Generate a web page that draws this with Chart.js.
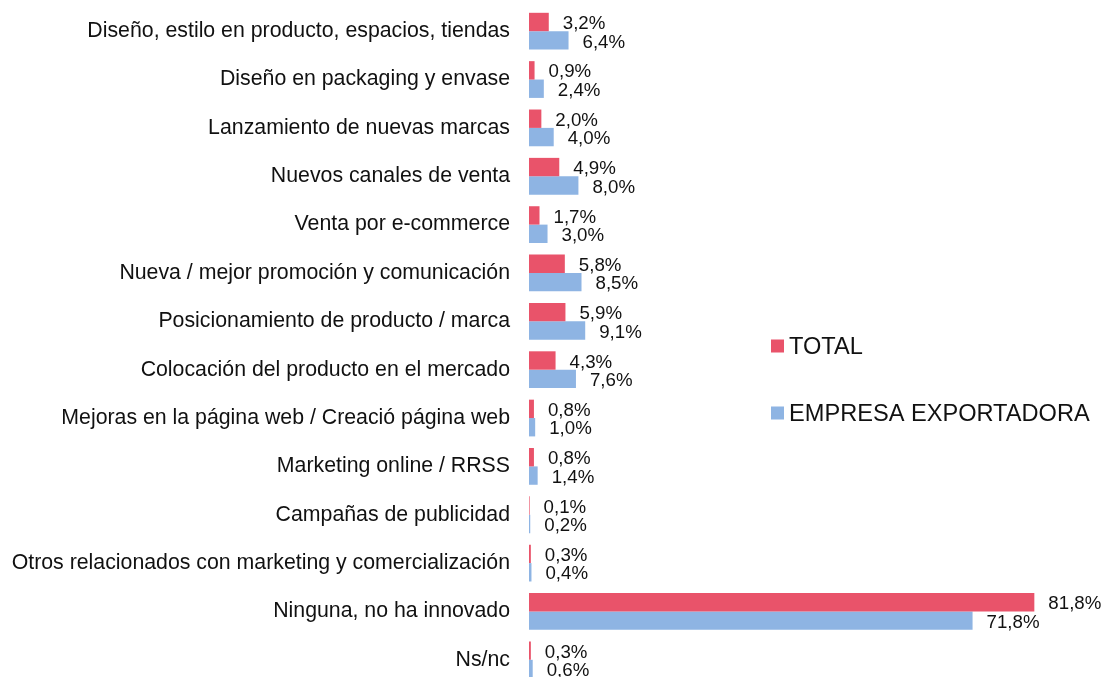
<!DOCTYPE html>
<html>
<head>
<meta charset="utf-8">
<script src="https://cdn.jsdelivr.net/npm/chart.js@4"></script>
<style>
  html, body { margin: 0; padding: 0; background: #fff; overflow: hidden; }
  #wrap { width: 1109px; height: 684px; position: relative; }
</style>
</head>
<body>
<div id="wrap"><canvas id="chart"></canvas></div>
<script>
const categories = [
    'Diseño, estilo en producto, espacios, tiendas',
    'Diseño en packaging y envase',
    'Lanzamiento de nuevas marcas',
    'Nuevos canales de venta',
    'Venta por e-commerce',
    'Nueva / mejor promoción y comunicación',
    'Posicionamiento de producto / marca',
    'Colocación del producto en el mercado',
    'Mejoras en la página web / Creació página web',
    'Marketing online / RRSS',
    'Campañas de publicidad',
    'Otros relacionados con marketing y comercialización',
    'Ninguna, no ha innovado',
    'Ns/nc'
];
const totalValues = [3.2, 0.9, 2.0, 4.9, 1.7, 5.8, 5.9, 4.3, 0.8, 0.8, 0.1, 0.3, 81.8, 0.3];
const exportValues = [6.4, 2.4, 4.0, 8.0, 3.0, 8.5, 9.1, 7.6, 1.0, 1.4, 0.2, 0.4, 71.8, 0.6];
const seriesNames = ['TOTAL', 'EMPRESA EXPORTADORA'];

const RED = '#e9536a';
const BLUE = '#8eb4e3';
const FONT = '"Liberation Sans", Arial, sans-serif';

const valueLabels = {
    id: 'valueLabels',
    afterDatasetsDraw(chart) {
        const ctx = chart.ctx;
        ctx.save();
        ctx.font = '18.7px ' + FONT;
        ctx.fillStyle = '#111';
        ctx.textAlign = 'left';
        ctx.textBaseline = 'middle';
        chart.data.datasets.forEach((ds, i) => {
            chart.getDatasetMeta(i).data.forEach((bar, j) => {
                const txt = ds.data[j].toFixed(1).replace('.', ',') + '%';
                ctx.fillText(txt, bar.x + 14, bar.y + 2);
            });
        });
        ctx.restore();
    }
};

// legend sits inside the plot area, to the right of the short bars
const floatLegend = {
    id: 'floatLegend',
    afterDraw(chart) {
        const ctx = chart.ctx;
        const rows = [346, 413];
        ctx.save();
        ctx.font = '23.6px ' + FONT;
        ctx.textBaseline = 'middle';
        ctx.textAlign = 'left';
        chart.data.datasets.forEach((ds, i) => {
            const y = rows[i];
            ctx.fillStyle = ds.backgroundColor;
            ctx.fillRect(771, y - 6.5, 13, 13);
            ctx.fillStyle = '#111';
            ctx.fillText(ds.label, 789, y + 1);
        });
        ctx.restore();
    }
};

new Chart(document.getElementById('chart'), {
    type: 'bar',
    plugins: [valueLabels, floatLegend],
    data: {
        labels: categories,
        datasets: [
            { label: seriesNames[0], data: totalValues, backgroundColor: RED, borderWidth: 0 },
            { label: seriesNames[1], data: exportValues, backgroundColor: BLUE, borderWidth: 0 }
        ]
    },
    options: {
        indexAxis: 'y',
        animation: false,
        responsive: true,
        maintainAspectRatio: false,
        layout: { padding: { top: 7, right: 24, bottom: 0, left: 0 } },
        datasets: { bar: { categoryPercentage: 0.76, barPercentage: 1 } },
        plugins: { legend: { display: false }, tooltip: { enabled: false } },
        scales: {
            x: { display: false, min: 0, max: 90 },
            y: {
                grid: { display: false, drawTicks: false },
                border: { display: false },
                ticks: { padding: 19, color: '#111', font: { family: FONT, size: 21.3 } },
                afterFit: scale => {
                    scale.width = 529;
                    scale.paddingTop = 0;
                    scale.paddingBottom = 0;
                }
            }
        }
    }
});
</script>
</body>
</html>
